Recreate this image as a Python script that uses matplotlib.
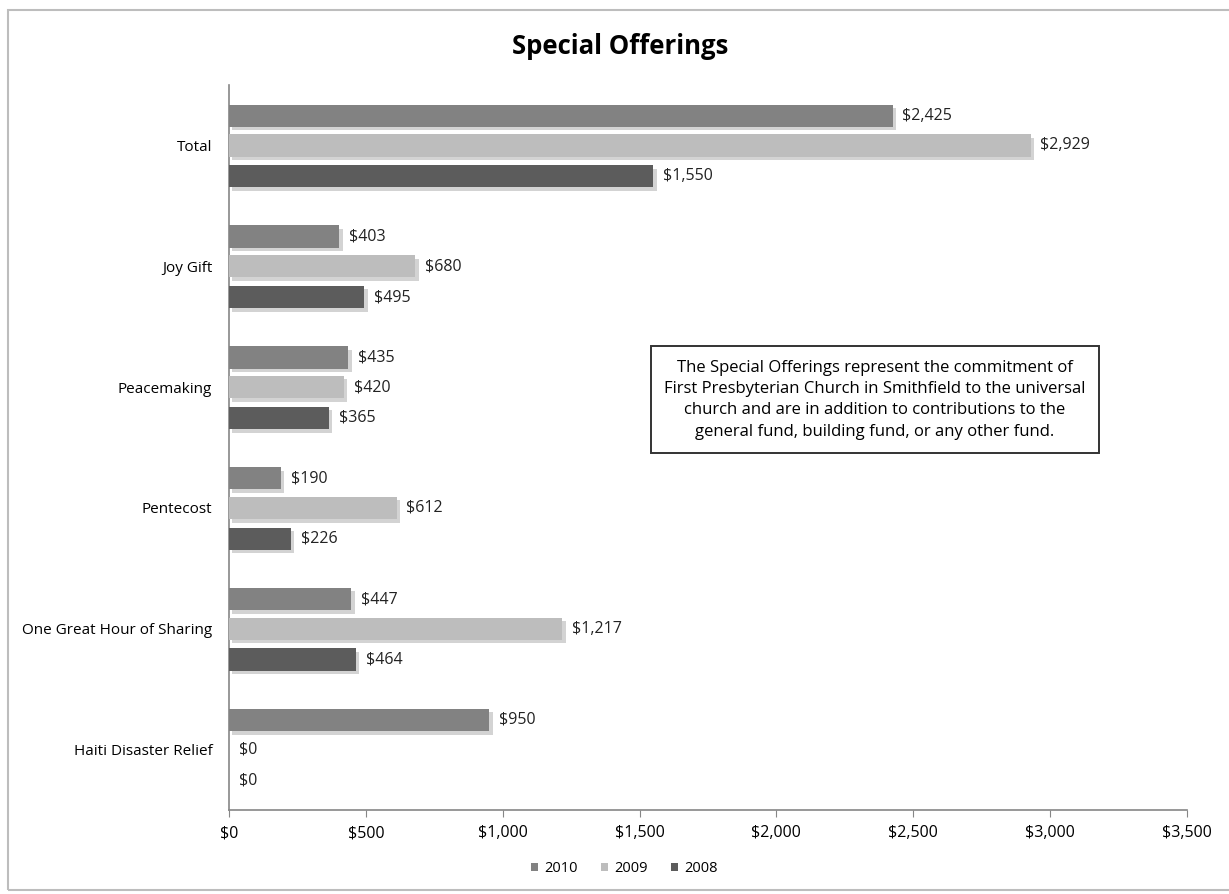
import matplotlib
matplotlib.use("Agg")
import matplotlib.pyplot as plt
import matplotlib.patheffects as pe
from matplotlib.patches import Rectangle, Patch
import numpy as np

plt.rcParams['font.family'] = ['Open Sans', 'DejaVu Sans']

categories = ["Total", "Joy Gift", "Peacemaking", "Pentecost",
              "One Great Hour of Sharing", "Haiti Disaster Relief"]
years = ["2010", "2009", "2008"]
vals_2010 = [2425, 403, 435, 190, 447, 950]
vals_2009 = [2929, 680, 420, 612, 1217, 0]
vals_2008 = [1550, 495, 365, 226, 464, 0]
colors = ["#828282", "#bdbdbd", "#5c5c5c"]
note = ("The Special Offerings represent the commitment of\n"
        "First Presbyterian Church in Smithfield to the universal\n"
        "church and are in addition to contributions to the\n"
        "general fund, building fund, or any other fund.")

fig = plt.figure(figsize=(12.29, 8.94), dpi=100)
ax = fig.add_axes([229 / 1229, 1 - 810 / 894, 958 / 1229, 725 / 894])

# outer chart frame
fig.patches.append(Rectangle((8 / 1229, 4 / 894), 1225 / 1229, 880 / 894,
                             transform=fig.transFigure, fill=False,
                             edgecolor="#bdbdbd", linewidth=1.5))

y = np.arange(len(categories))
offsets = [-0.245, 0.0, 0.255]
shadow = [pe.SimplePatchShadow(offset=(2.5, -2.5), shadow_rgbFace="#c8c8c8", alpha=0.8),
          pe.Normal()]

for series, off, col, yr in zip([vals_2010, vals_2009, vals_2008], offsets, colors, years):
    bars = ax.barh(y + off, series, height=0.185, color=col, zorder=3)
    for b in bars:
        b.set_path_effects(shadow)
    for yy, v in zip(y + off, series):
        ax.annotate(f"${v:,}", (v, yy), xytext=(7, 0), textcoords="offset points",
                    va="center", ha="left", fontsize=11.5, color="#222222")

ax.set_xlim(0, 3500)
ax.set_ylim(len(categories) - 0.5, -0.5)
ax.set_xticks(np.arange(0, 3501, 500))
ax.set_xticklabels([f"${t:,}" for t in range(0, 3501, 500)], fontsize=11.5)
ax.set_yticks(y)
ax.set_yticklabels(categories, fontsize=11)
ax.tick_params(axis="y", length=0, pad=12)
ax.tick_params(axis="x", length=5, color="#868686", pad=6)
for s in ["top", "right"]:
    ax.spines[s].set_visible(False)
for s in ["left", "bottom"]:
    ax.spines[s].set_color("#868686")
    ax.spines[s].set_linewidth(1.2)

ax.text(0.674, 0.566, note, transform=ax.transAxes, ha="center", va="center",
        fontsize=12, linespacing=1.45,
        bbox=dict(boxstyle="square,pad=0.8", facecolor="white",
                  edgecolor="#333333", linewidth=1.4))

fig.text(620 / 1229, 1 - 47 / 894, "Special Offerings", ha="center", va="center",
         fontsize=18.5, fontweight="bold")

handles = [Patch(facecolor=c, label=yr) for c, yr in zip(colors, years)]
fig.legend(handles=handles, loc="center", bbox_to_anchor=(624 / 1229, 1 - 869 / 894),
           ncol=3, frameon=False, fontsize=10.5, handlelength=0.5, handleheight=0.5,
           handletextpad=0.4, columnspacing=1.6)

fig.savefig("out.png", dpi=100)
